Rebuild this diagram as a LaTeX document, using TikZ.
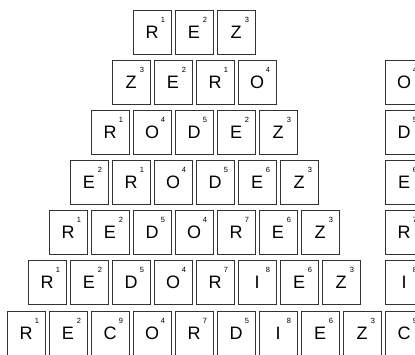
\documentclass[tikz,border=0pt]{standalone}
\usepackage{fontspec}
\setmainfont{Liberation Sans}
\tikzset{
  tilebox/.style={draw=black!80, line width=0.8pt, minimum width=38pt, minimum height=44pt, inner sep=0pt, outer sep=0pt, fill=white},
  tileletter/.style={font=\fontsize{18}{18}\selectfont, inner sep=0pt, anchor=base},
  tilenum/.style={font=\fontsize{7.5}{7.5}\selectfont, inner sep=0pt, anchor=base},
}
\newcommand\tileat[5]{%
  \node[tilebox] (#1) at (#2,#3) {};
  \node[tileletter] (#1l) at ($(#1.center)+(0,6.5)$) {#4};
  \node[tilenum] (#1n) at ($(#1.center)+(11,-10)$) {#5};
}
\usetikzlibrary{calc}
\begin{document}
\begin{tikzpicture}[x=1pt,y=-1pt]
\useasboundingbox (0,0) rectangle (415,354);
% row 1
\foreach [count=\k from 0] \L/\N in {R/1,E/2,Z/3}
  {\tileat{ra\k}{152+42*\k}{32}{\L}{\N}}
% row 2
\foreach [count=\k from 0] \L/\N in {Z/3,E/2,R/1,O/4}
  {\tileat{rb\k}{131+42*\k}{82}{\L}{\N}}
% row 3
\foreach [count=\k from 0] \L/\N in {R/1,O/4,D/5,E/2,Z/3}
  {\tileat{rc\k}{110+42*\k}{132}{\L}{\N}}
% row 4
\foreach [count=\k from 0] \L/\N in {E/2,R/1,O/4,D/5,E/6,Z/3}
  {\tileat{rd\k}{89+42*\k}{182}{\L}{\N}}
% row 5
\foreach [count=\k from 0] \L/\N in {R/1,E/2,D/5,O/4,R/7,E/6,Z/3}
  {\tileat{re\k}{68+42*\k}{232}{\L}{\N}}
% row 6
\foreach [count=\k from 0] \L/\N in {R/1,E/2,D/5,O/4,R/7,I/8,E/6,Z/3}
  {\tileat{rf\k}{47+42*\k}{282}{\L}{\N}}
% row 7
\foreach [count=\k from 0] \L/\N in {R/1,E/2,C/9,O/4,R/7,D/5,I/8,E/6,Z/3}
  {\tileat{rg\k}{26+42*\k}{333}{\L}{\N}}
% right column
\tileat{cb}{404}{82}{O}{4}
\tileat{cc}{404}{132}{D}{5}
\tileat{cd}{404}{182}{E}{6}
\tileat{ce}{404}{232}{R}{7}
\tileat{cf}{404}{282}{I}{8}
\tileat{cg}{404}{333}{C}{9}
\end{tikzpicture}
\end{document}
